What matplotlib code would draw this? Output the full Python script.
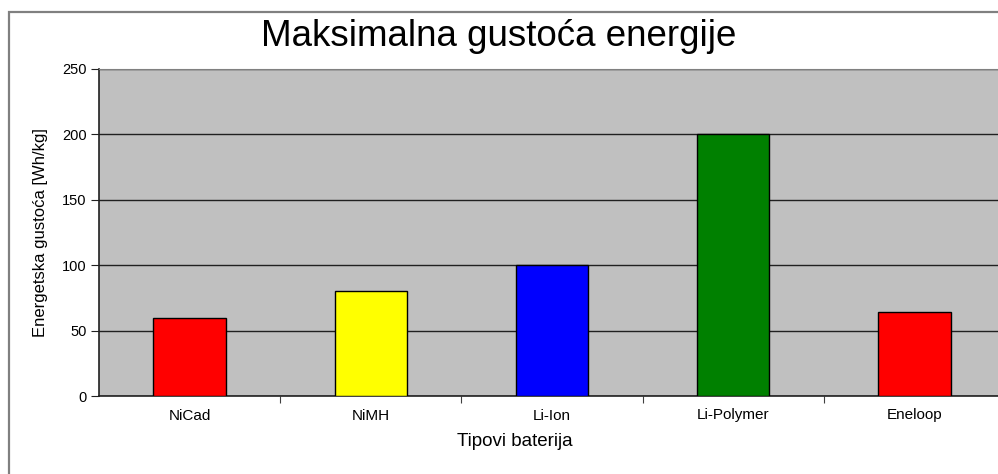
import matplotlib
matplotlib.use("Agg")
import matplotlib.pyplot as plt
from matplotlib.patches import Rectangle

categories = ["NiCad", "NiMH", "Li-Ion", "Li-Polymer", "Eneloop"]
values = [60, 80, 100, 200, 64]
colors = ["#ff0000", "#ffff00", "#0000ff", "#008000", "#ff0000"]
yticks = [0, 50, 100, 150, 200, 250]

plt.rcParams['font.family'] = ['Liberation Sans', 'DejaVu Sans']

W, H = 998, 474
fig = plt.figure(figsize=(W/100, H/100), dpi=100)
fig.patch.set_facecolor("white")

# outer chart frame
fig.patches.append(Rectangle((8.5/W, -0.1), 1.2, (H-12)/H + 0.1, transform=fig.transFigure,
                             fill=False, edgecolor="#808080", lw=1.6))

left, right, bottom, top = 99, 1005, 396, 69
ax = fig.add_axes([left/W, (H-bottom)/H, (right-left)/W, (bottom-top)/H])
ax.set_facecolor("#c0c0c0")
x = list(range(len(categories)))
ax.bar(x, values, width=0.4, color=colors, edgecolor="black", linewidth=1, zorder=3)
ax.set_xlim(-0.5, len(categories)-0.5)
ax.set_ylim(0, 250)
ax.set_yticks(yticks)
ax.yaxis.grid(True, color="#202020", lw=1, zorder=1)
ax.set_axisbelow(True)
ax.set_xticks([i + 0.5 for i in range(len(categories)-1)], minor=False)
ax.set_xticklabels([])
ax.set_xticks(x, minor=True)
ax.set_xticklabels(categories, minor=True, fontsize=11)
ax.tick_params(axis="x", which="minor", length=0, pad=9)
ax.tick_params(axis="x", which="major", length=5, direction="out", color="#404040")
ax.tick_params(axis="y", length=6, direction="out", labelsize=10.5, pad=3, color="#202020")
ax.spines["right"].set_visible(False)
ax.spines["top"].set_color("#808080")
ax.spines["left"].set_color("#202020")
ax.spines["bottom"].set_color("#202020")
ax.spines["left"].set_linewidth(1.2)
ax.spines["bottom"].set_linewidth(1.2)

ax.set_xlabel("Tipovi baterija", fontsize=13.5, va="center")
ax.xaxis.set_label_coords((515 - left) / (right - left), (bottom - 441) / (bottom - top))
ax.set_ylabel("Energetska gustoća [Wh/kg]", fontsize=12, va="center")
ax.yaxis.set_label_coords((41 - left) / (right - left), (bottom - 233) / (bottom - top))
fig.text(499/W, 1 - 37/H, "Maksimalna gustoća energije", fontsize=26.5,
         ha="center", va="center")

fig.savefig("out.png", dpi=100)
